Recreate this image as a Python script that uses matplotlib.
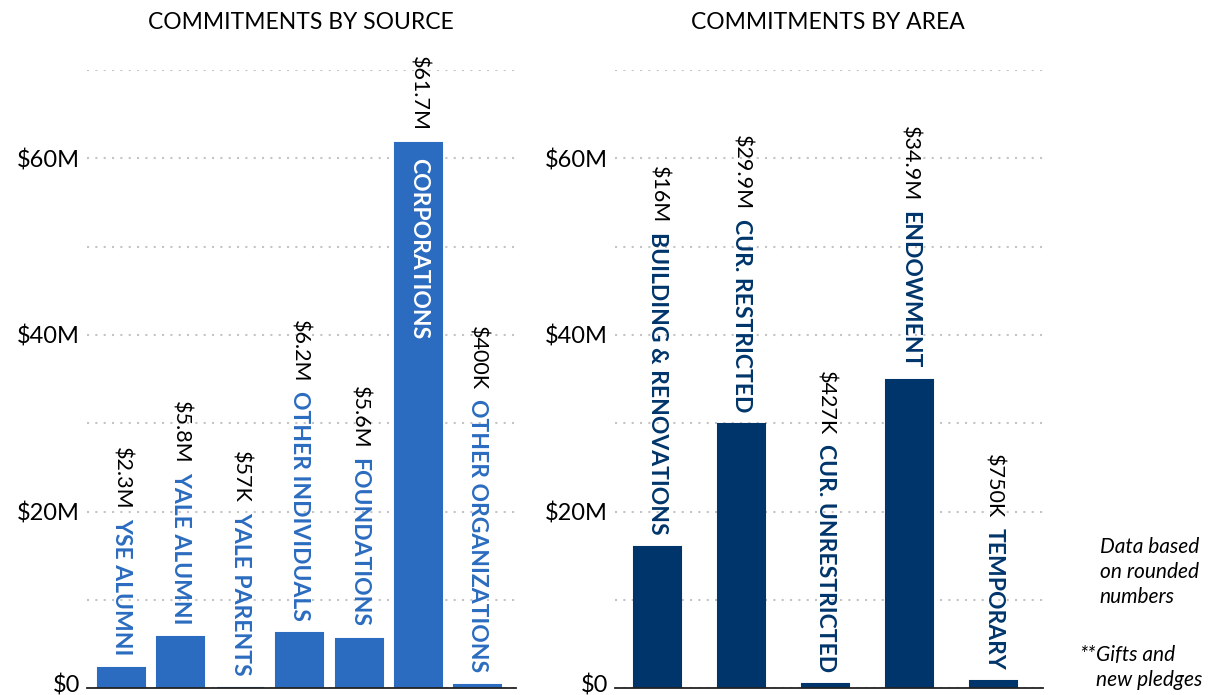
import matplotlib
matplotlib.use("Agg")
import matplotlib.pyplot as plt
from matplotlib.ticker import FuncFormatter, MultipleLocator

plt.rcParams["font.family"] = ["Lato", "DejaVu Sans"]

# values in $M
source_cats = ["YSE ALUMNI", "YALE ALUMNI", "YALE PARENTS", "OTHER INDIVIDUALS",
               "FOUNDATIONS", "CORPORATIONS", "OTHER ORGANIZATIONS"]
source_vals = [2.3, 5.8, 0.057, 6.2, 5.6, 61.7, 0.4]
source_labels = ["$2.3M", "$5.8M", "$57K", "$6.2M", "$5.6M", "$61.7M", "$400K"]

area_cats = ["BUILDING & RENOVATIONS", "CUR. RESTRICTED", "CUR. UNRESTRICTED",
             "ENDOWMENT", "TEMPORARY"]
area_vals = [16, 29.9, 0.427, 34.9, 0.75]
area_labels = ["$16M", "$29.9M", "$427K", "$34.9M", "$750K"]

SOURCE_BLUE = "#2b6cc0"
AREA_BLUE = "#00356b"
CAT_SIZE = 16.5
VAL_SIZE = 15.5
TICK_SIZE = 17


def money(v, pos):
    # $0 is drawn separately so it sits on the baseline
    if v % 20 != 0 or v == 0:
        return ""
    return f"${int(v)}M"


def setup(ax):
    ax.set_ylim(0, 70)
    ax.yaxis.set_major_locator(MultipleLocator(10))
    ax.yaxis.set_major_formatter(FuncFormatter(money))
    ax.yaxis.grid(True, linestyle=(0, (1, 3)), color="#c4c4c4", linewidth=1.5)
    ax.set_axisbelow(True)
    for s in ["top", "right", "left"]:
        ax.spines[s].set_visible(False)
    ax.spines["bottom"].set_color("#222222")
    ax.spines["bottom"].set_linewidth(1.3)
    ax.tick_params(axis="y", length=0, labelsize=TICK_SIZE, pad=5)
    ax.tick_params(axis="x", length=0, labelbottom=False)
    ax.annotate("$0", xy=(0, 0), xycoords=("axes fraction", "data"),
                xytext=(-7, -4), textcoords="offset pixels", ha="right",
                va="baseline", fontsize=TICK_SIZE, annotation_clip=False)


def label_bars(ax, vals, labels, cats, color, inside_min=50):
    for i, (v, lab, cat) in enumerate(zip(vals, labels, cats)):
        if v > inside_min:
            ax.annotate(lab, (i, v), xytext=(0, 12), textcoords="offset pixels",
                        rotation=-90, ha="center", va="bottom", fontsize=VAL_SIZE)
            ax.annotate(cat, (i, v), xytext=(0, -15), textcoords="offset pixels",
                        rotation=-90, ha="center", va="top", fontsize=CAT_SIZE,
                        fontweight="bold", color="white")
        else:
            c = ax.annotate(cat, (i, v), xytext=(0, 12), textcoords="offset pixels",
                            rotation=-90, ha="center", va="bottom", fontsize=CAT_SIZE,
                            fontweight="bold", color=color)
            ax.annotate(lab, (0.5, 1), xycoords=c, xytext=(0, 9),
                        textcoords="offset pixels", rotation=-90, ha="center",
                        va="bottom", fontsize=VAL_SIZE)


fig = plt.figure(figsize=(12.18, 6.95), dpi=100)
ax1 = fig.add_axes([0.0714, 0.010, 0.3522, 0.889])
ax2 = fig.add_axes([0.505, 0.010, 0.351, 0.889])

ax1.bar(range(len(source_vals)), source_vals, width=0.79, color=SOURCE_BLUE,
        edgecolor=SOURCE_BLUE, linewidth=1.5)
ax1.set_xlim(-0.58, 6.64)
setup(ax1)
label_bars(ax1, source_vals, source_labels, source_cats, SOURCE_BLUE)

ax2.bar(range(len(area_vals)), area_vals, width=0.56, color=AREA_BLUE,
        edgecolor=AREA_BLUE, linewidth=1.5)
ax2.set_xlim(-0.51, 4.58)
setup(ax2)
label_bars(ax2, area_vals, area_labels, area_cats, AREA_BLUE)

fig.text(0.247, 0.968, "COMMITMENTS BY SOURCE", ha="center", va="center", fontsize=16.5)
fig.text(0.680, 0.968, "COMMITMENTS BY AREA", ha="center", va="center", fontsize=16.5)

fig.text(0.903, 0.227, "Data based\non rounded\nnumbers", ha="left", va="top",
         fontsize=15, style="italic", linespacing=1.3)
fig.text(0.9, 0.072, "**", ha="right", va="top", fontsize=15, style="italic")
fig.text(0.9, 0.072, "Gifts and\nnew pledges", ha="left", va="top",
         fontsize=15, style="italic", linespacing=1.3)

fig.savefig("out.png", dpi=100)
